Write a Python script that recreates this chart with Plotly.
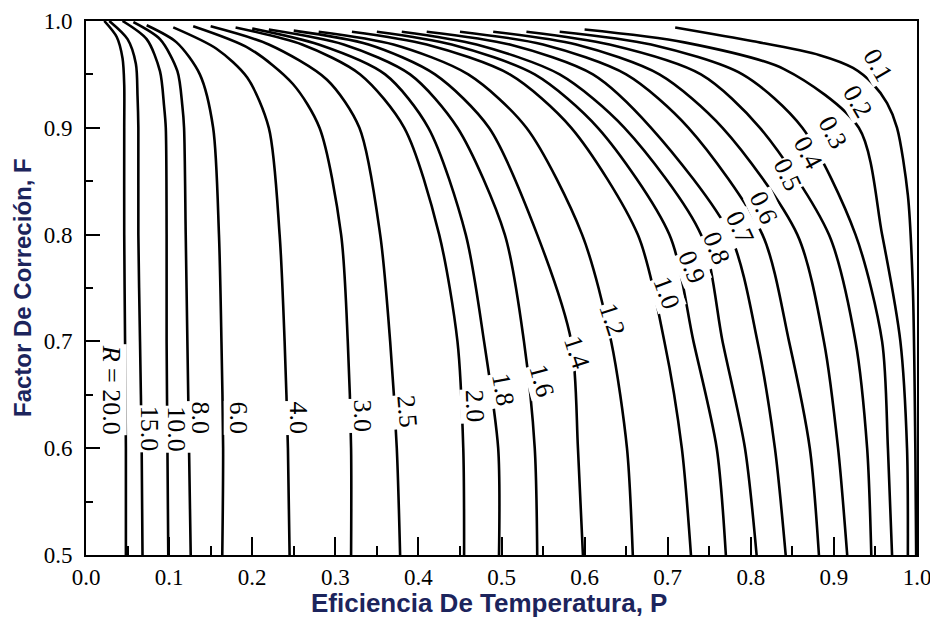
import plotly.graph_objects as go

# R values of the curves
r_labels = ["0.1", "0.2", "0.3", "0.4", "0.5", "0.6", "0.7", "0.8", "0.9", "1.0",
            "1.2", "1.4", "1.6", "1.8", "2.0", "2.5", "3.0", "4.0", "6.0", "8.0",
            "10.0", "15.0", "20.0"]

# (P, F) points for each curve
p_r01 = [0.709, 0.803, 0.883, 0.923, 0.947, 0.964, 0.976, 0.989, 0.995, 0.998, 0.999]
f_r01 = [0.994, 0.981, 0.968, 0.956, 0.941, 0.923, 0.900, 0.837, 0.750, 0.600, 0.500]
p_r02 = [0.600, 0.720, 0.840, 0.930, 0.958, 0.980, 0.988, 0.989]
f_r02 = [0.992, 0.980, 0.955, 0.900, 0.800, 0.700, 0.600, 0.500]
p_r03 = [0.570, 0.680, 0.790, 0.862, 0.926, 0.958, 0.965, 0.970]
f_r03 = [0.990, 0.978, 0.950, 0.900, 0.800, 0.700, 0.600, 0.500]
p_r04 = [0.530, 0.630, 0.740, 0.811, 0.894, 0.926, 0.940, 0.945]
f_r04 = [0.990, 0.978, 0.950, 0.900, 0.800, 0.700, 0.600, 0.500]
p_r05 = [0.490, 0.590, 0.690, 0.766, 0.856, 0.888, 0.905, 0.916]
f_r05 = [0.990, 0.978, 0.950, 0.900, 0.800, 0.700, 0.600, 0.500]
p_r06 = [0.450, 0.550, 0.650, 0.725, 0.814, 0.846, 0.871, 0.882]
f_r06 = [0.990, 0.978, 0.950, 0.900, 0.800, 0.700, 0.600, 0.500]
p_r07 = [0.410, 0.510, 0.610, 0.680, 0.775, 0.808, 0.829, 0.842]
f_r07 = [0.990, 0.978, 0.950, 0.900, 0.800, 0.700, 0.600, 0.500]
p_r08 = [0.380, 0.470, 0.570, 0.648, 0.740, 0.766, 0.793, 0.807]
f_r08 = [0.990, 0.978, 0.950, 0.900, 0.800, 0.700, 0.600, 0.500]
p_r09 = [0.350, 0.440, 0.540, 0.616, 0.702, 0.731, 0.759, 0.770]
f_r09 = [0.990, 0.978, 0.950, 0.900, 0.800, 0.700, 0.600, 0.500]
p_r10 = [0.320, 0.410, 0.510, 0.584, 0.664, 0.696, 0.717, 0.728]
f_r10 = [0.990, 0.978, 0.950, 0.900, 0.800, 0.700, 0.600, 0.500]
p_r12 = [0.280, 0.370, 0.460, 0.530, 0.597, 0.632, 0.651, 0.658]
f_r12 = [0.990, 0.978, 0.950, 0.900, 0.800, 0.700, 0.600, 0.500]
p_r14 = [0.250, 0.340, 0.420, 0.485, 0.543, 0.584, 0.592, 0.598]
f_r14 = [0.991, 0.978, 0.950, 0.900, 0.800, 0.700, 0.600, 0.500]
p_r16 = [0.220, 0.310, 0.390, 0.447, 0.504, 0.527, 0.540, 0.543]
f_r16 = [0.992, 0.978, 0.950, 0.900, 0.800, 0.700, 0.600, 0.500]
p_r18 = [0.200, 0.280, 0.360, 0.412, 0.457, 0.479, 0.496, 0.497]
f_r18 = [0.993, 0.978, 0.950, 0.900, 0.800, 0.700, 0.600, 0.500]
p_r20 = [0.180, 0.260, 0.330, 0.383, 0.425, 0.447, 0.454, 0.455]
f_r20 = [0.994, 0.978, 0.950, 0.900, 0.800, 0.700, 0.600, 0.500]
p_r25 = [0.150, 0.220, 0.290, 0.329, 0.354, 0.366, 0.374, 0.378]
f_r25 = [0.995, 0.978, 0.945, 0.900, 0.800, 0.700, 0.600, 0.500]
p_r30 = [0.129, 0.197, 0.249, 0.281, 0.307, 0.315, 0.319, 0.319]
f_r30 = [0.995, 0.974, 0.941, 0.900, 0.800, 0.700, 0.600, 0.500]
p_r40 = [0.105, 0.157, 0.194, 0.220, 0.233, 0.239, 0.243, 0.245]
f_r40 = [0.994, 0.974, 0.947, 0.900, 0.800, 0.700, 0.600, 0.500]
p_r60 = [0.073, 0.109, 0.137, 0.153, 0.160, 0.163, 0.165, 0.164]
f_r60 = [0.996, 0.980, 0.950, 0.900, 0.800, 0.700, 0.600, 0.500]
p_r80 = [0.057, 0.089, 0.110, 0.116, 0.118, 0.120, 0.122, 0.124, 0.126]
f_r80 = [0.999, 0.983, 0.953, 0.920, 0.900, 0.800, 0.700, 0.600, 0.500]
p_r100 = [0.044, 0.073, 0.089, 0.094, 0.096, 0.097, 0.097, 0.098, 0.099]
f_r100 = [1.000, 0.983, 0.953, 0.920, 0.900, 0.800, 0.700, 0.600, 0.500]
p_r150 = [0.028, 0.050, 0.060, 0.062, 0.063, 0.063, 0.065, 0.067, 0.068]
f_r150 = [1.000, 0.983, 0.960, 0.930, 0.900, 0.800, 0.700, 0.600, 0.500]
p_r200 = [0.022, 0.037, 0.044, 0.046, 0.046, 0.046, 0.047, 0.048, 0.048]
f_r200 = [1.000, 0.985, 0.965, 0.940, 0.900, 0.800, 0.700, 0.600, 0.500]

curves_p = [p_r01, p_r02, p_r03, p_r04, p_r05, p_r06, p_r07, p_r08, p_r09, p_r10,
            p_r12, p_r14, p_r16, p_r18, p_r20, p_r25, p_r30, p_r40, p_r60, p_r80,
            p_r100, p_r150, p_r200]
curves_f = [f_r01, f_r02, f_r03, f_r04, f_r05, f_r06, f_r07, f_r08, f_r09, f_r10,
            f_r12, f_r14, f_r16, f_r18, f_r20, f_r25, f_r30, f_r40, f_r60, f_r80,
            f_r100, f_r150, f_r200]

# label anchor positions (P, F) and rotation
label_p = [0.953, 0.929, 0.899, 0.869, 0.844, 0.815, 0.787, 0.759, 0.729, 0.699,
           0.634, 0.591, 0.548, 0.502, 0.468, 0.386, 0.333, 0.256, 0.184, 0.138,
           0.108, 0.076, 0.031]
label_f = [0.958, 0.925, 0.896, 0.877, 0.856, 0.825, 0.807, 0.787, 0.769, 0.745,
           0.720, 0.690, 0.663, 0.655, 0.639, 0.634, 0.630, 0.628, 0.628, 0.628,
           0.618, 0.618, 0.655]
label_angle = [60, 60, 62, 62, 65, 65, 65, 68, 68, 70,
               72, 72, 75, 80, 88, 85, 90, 90, 90, 90,
               90, 90, 90]
label_text = r_labels[:-1] + ["<i>R</i> = 20.0"]

x_ticks = [0, 0.1, 0.2, 0.3, 0.4, 0.5, 0.6, 0.7, 0.8, 0.9, 1.0]
x_ticktext = ["0.0", "0.1", "0.2", "0.3", "0.4", "0.5", "0.6", "0.7", "0.8", "0.9", "1.0"]
y_ticks = [0.5, 0.6, 0.7, 0.8, 0.9, 1.0]
y_ticktext = ["0.5", "0.6", "0.7", "0.8", "0.9", "1.0"]

fig = go.Figure()
for px, fy in zip(curves_p, curves_f):
    fig.add_trace(go.Scatter(x=px, y=fy, mode="lines",
                             line=dict(color="black", width=2.6, shape="spline", smoothing=0.8),
                             showlegend=False, hoverinfo="skip"))

for lp, lf, la, lt in zip(label_p, label_f, label_angle, label_text):
    fig.add_annotation(x=lp, y=lf, text=lt, textangle=la, showarrow=False,
                       font=dict(family="Liberation Serif", size=26, color="black"),
                       bgcolor="white", borderpad=0)

title_color = "#1c245c"
fig.add_annotation(xref="paper", yref="paper", x=0.485, y=-0.089,
                   text="<b>Eficiencia De Temperatura, P</b>", showarrow=False,
                   xanchor="center", yanchor="middle",
                   font=dict(family="Liberation Sans", size=26, color=title_color))
fig.add_annotation(xref="paper", yref="paper", x=-0.077, y=0.5,
                   text="<b>Factor De Correción, F</b>", showarrow=False, textangle=-90,
                   xanchor="center", yanchor="middle",
                   font=dict(family="Liberation Sans", size=24, color=title_color))

axis_common = dict(showgrid=False, zeroline=False, showline=True, linecolor="black",
                   linewidth=2, mirror=True, ticks="inside", tickwidth=2,
                   tickcolor="black", automargin=False, ticklabeloverflow="allow",
                   tickfont=dict(family="Liberation Serif", size=23, color="black"))

fig.update_xaxes(range=[0, 1], tickvals=x_ticks, ticktext=x_ticktext, ticklen=18,
                 ticklabelstandoff=0,
                 minor=dict(dtick=0.05, ticks="inside", ticklen=9, tickwidth=2, tickcolor="black"),
                 **axis_common)
fig.update_yaxes(range=[0.5, 1.0], tickvals=y_ticks, ticktext=y_ticktext, ticklen=14,
                 ticklabelstandoff=7,
                 minor=dict(dtick=0.05, ticks="inside", ticklen=7, tickwidth=2, tickcolor="black"),
                 **axis_common)

# page body has an 8 px margin, so the figure is sized to fit inside the window
fig.update_layout(width=922, height=619, plot_bgcolor="white", paper_bgcolor="white",
                  margin=dict(l=78, r=13, t=13, b=72))

fig.write_html("out.html")
